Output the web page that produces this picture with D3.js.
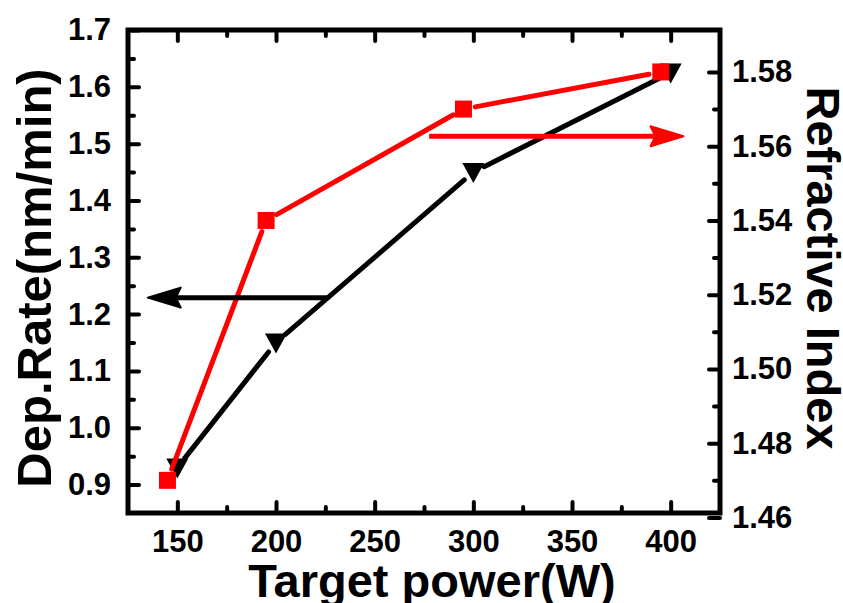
<!DOCTYPE html>
<html>
<head>
<meta charset="utf-8">
<script src="https://cdn.jsdelivr.net/npm/d3@7"></script>
<style>
    body { margin: 0; background: #fff; }
    svg text { font-family: "Liberation Sans", Arial, sans-serif; font-weight: bold; fill: #000; }
</style>
</head>
<body>
<svg id="chart" width="843" height="603"></svg>
<script>
// data
var powerDep   = [150, 200, 300, 400]
var depRate    = [0.93, 1.15, 1.45, 1.625]
var powerIndex = [145, 195, 295, 395]
var refIndex   = [1.47, 1.54, 1.57, 1.58]

var xTicks      = [150, 200, 250, 300, 350, 400]
var xMinor      = [175, 225, 275, 325, 375]
var leftTicks   = [0.9, 1.0, 1.1, 1.2, 1.3, 1.4, 1.5, 1.6, 1.7]
var leftMinor   = [0.95, 1.05, 1.15, 1.25, 1.35, 1.45, 1.55, 1.65]
var rightTicks  = [1.46, 1.48, 1.50, 1.52, 1.54, 1.56, 1.58]
var rightMinor  = [1.47, 1.49, 1.51, 1.53, 1.55, 1.57]

// arrows pointing at the axis each series belongs to: [x from, x to, y]
var depArrow   = [226, 135, 1.229]
var indexArrow = [277.6, 406.5, 1.5627]

var margin = {left: 128, right: 720, top: 30, bottom: 513}
var svg = d3.select("#chart")

var x  = d3.scaleLinear().domain([125, 425]).range([margin.left, margin.right])
var yL = d3.scaleLinear().domain([0.85, 1.7]).range([margin.bottom, margin.top])
var yR = d3.scaleLinear().domain([1.4612, 1.5913]).range([margin.bottom, margin.top])

function styleAxis(g)
{
    g.select(".domain").remove()
    g.selectAll("line").attr("stroke", "#000").attr("stroke-width", 4).attr("stroke-linecap", "round")
    g.selectAll("text").style("font-size", "31px")
}

// minor ticks first, without labels
function minorAxis(axis, vals, tr)
{
    var g = svg.append("g").attr("transform", tr)
        .call(axis.tickValues(vals).tickSize(-6).tickSizeOuter(0))
    g.selectAll("text").remove()
    styleAxis(g)
}
minorAxis(d3.axisBottom(x), xMinor, "translate(0," + margin.bottom + ")")
minorAxis(d3.axisTop(x), xMinor, "translate(0," + margin.top + ")")
minorAxis(d3.axisLeft(yL), leftMinor, "translate(" + margin.left + ",0)")
minorAxis(d3.axisRight(yR), rightMinor, "translate(" + margin.right + ",0)")

var gB = svg.append("g").attr("transform", "translate(0," + margin.bottom + ")")
    .call(d3.axisBottom(x).tickValues(xTicks).tickSize(-11).tickSizeOuter(0).tickPadding(17).tickFormat(d3.format("d")))
styleAxis(gB)
var gT = svg.append("g").attr("transform", "translate(0," + margin.top + ")")
    .call(d3.axisTop(x).tickValues(xTicks).tickSize(-11).tickSizeOuter(0))
gT.selectAll("text").remove()
styleAxis(gT)
var gL = svg.append("g").attr("transform", "translate(" + margin.left + ",0)")
    .call(d3.axisLeft(yL).tickValues(leftTicks).tickSize(-11).tickSizeOuter(0).tickPadding(17).tickFormat(d3.format(".1f")))
styleAxis(gL)
var gR = svg.append("g").attr("transform", "translate(" + margin.right + ",0)")
    .call(d3.axisRight(yR).tickValues(rightTicks).tickSize(-11).tickSizeOuter(0).tickPadding(12).tickFormat(d3.format(".2f")))
styleAxis(gR)

// frame
svg.append("rect")
    .attr("x", margin.left).attr("y", margin.top)
    .attr("width", margin.right - margin.left).attr("height", margin.bottom - margin.top)
    .attr("fill", "none").attr("stroke", "#000").attr("stroke-width", 5)

// lines with a small gap at each marker
function gappedSegments(pts, gap)
{
    var segs = []
    for (var i = 0; i < pts.length - 1; i++)
    {
        var a = pts[i], b = pts[i + 1]
        var dx = b[0] - a[0], dy = b[1] - a[1]
        var len = Math.sqrt(dx * dx + dy * dy)
        var ux = dx / len, uy = dy / len
        segs.push([a[0] + ux * gap, a[1] + uy * gap, b[0] - ux * gap, b[1] - uy * gap])
    }
    return segs
}

function drawSeries(xs, ys, yScale, color, symbol)
{
    var pts = xs.map(function(d, i){return [x(d), yScale(ys[i])]})
    svg.append("g").selectAll("line")
        .data(gappedSegments(pts, 12))
        .enter().append("line")
            .attr("x1", function(d){return d[0]})
            .attr("y1", function(d){return d[1]})
            .attr("x2", function(d){return d[2]})
            .attr("y2", function(d){return d[3]})
            .attr("stroke", color).attr("stroke-width", 5).attr("stroke-linecap", "round")
    svg.append("g").selectAll("path")
        .data(pts)
        .enter().append("path")
            .attr("d", symbol)
            .attr("transform", function(d){return "translate(" + d[0] + "," + d[1] + ")"})
            .attr("fill", color)
}

var tri = "M-11,-9L11,-9L0,11Z"
var sq = "M-8.5,-8.5H8.5V8.5H-8.5Z"
drawSeries(powerDep, depRate, yL, "#000", tri)
drawSeries(powerIndex, refIndex, yR, "#ff0000", sq)

// arrows
function arrow(a, yScale, color)
{
    var x1 = x(a[0]), x2 = x(a[1]), yy = yScale(a[2])
    var dir = x2 > x1 ? 1 : -1
    var headLen = 33, half = 10
    svg.append("line")
        .attr("x1", x1).attr("y1", yy).attr("x2", x2 - dir * headLen + dir * 4).attr("y2", yy)
        .attr("stroke", color).attr("stroke-width", 5)
    svg.append("path")
        .attr("d", "M" + x2 + "," + yy + "L" + (x2 - dir * headLen) + "," + (yy - half) +
                   "L" + (x2 - dir * (headLen - 5)) + "," + yy +
                   "L" + (x2 - dir * headLen) + "," + (yy + half) + "Z")
        .attr("fill", color).attr("stroke", color).attr("stroke-width", 2).attr("stroke-linejoin", "round")
}
arrow(depArrow, yL, "#000")
arrow(indexArrow, yR, "#ff0000")

// axis titles
svg.append("text")
    .attr("transform", "translate(51,278) rotate(-90)")
    .attr("text-anchor", "middle").style("font-size", "49px")
    .text("Dep.Rate(nm/min)")
svg.append("text")
    .attr("transform", "translate(807,268) rotate(90)")
    .attr("text-anchor", "middle").style("font-size", "47px")
    .text("Refractive Index")
svg.append("text")
    .attr("x", 432).attr("y", 597)
    .attr("text-anchor", "middle").style("font-size", "47px")
    .text("Target power(W)")
</script>
</body>
</html>
